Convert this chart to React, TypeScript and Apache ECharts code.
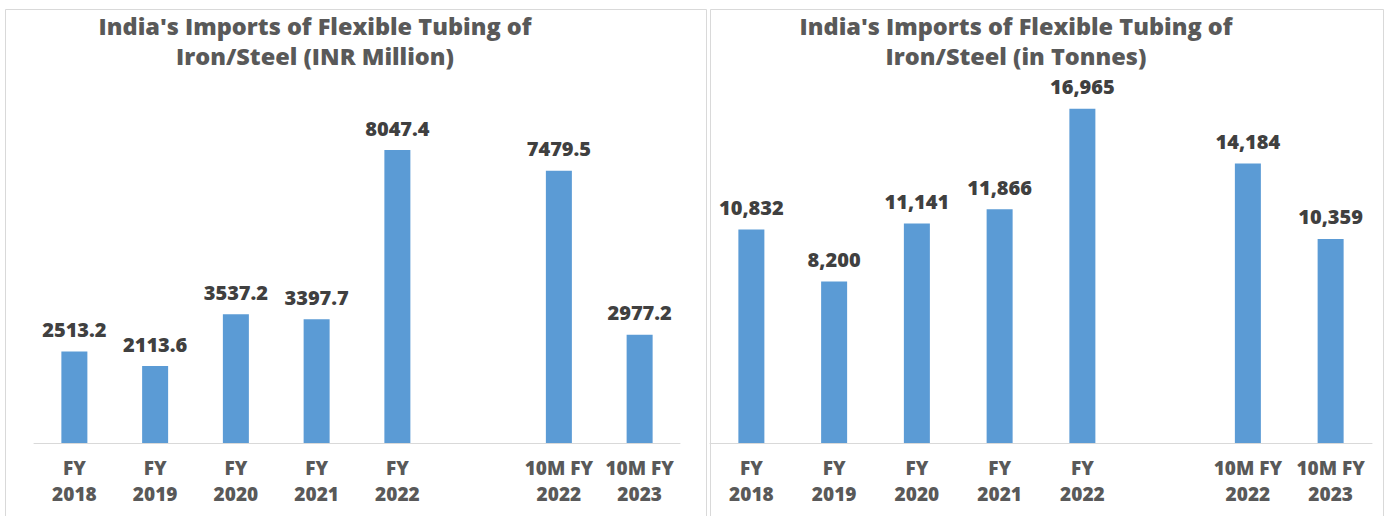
import React, { useEffect, useRef } from "react";
import * as echarts from "echarts";

const categories = ["FY\n2018", "FY\n2019", "FY\n2020", "FY\n2021", "FY\n2022", "", "10M FY\n2022", "10M FY\n2023"];
const valuesINR: (number | string)[] = [2513.2, 2113.6, 3537.2, 3397.7, 8047.4, "-", 7479.5, 2977.2];
const valuesTonnes: (number | string)[] = [10832, 8200, 11141, 11866, 16965, "-", 14184, 10359];
const titleLeft = "India's Imports of Flexible Tubing of\nIron/Steel (INR Million)";
const titleRight = "India's Imports of Flexible Tubing of\nIron/Steel (in Tonnes)";

const FONT = "'Open Sans', Lato, sans-serif";

export default function App() {
  const ref = useRef<HTMLDivElement>(null);
  useEffect(() => {
    document.body.style.margin = "0";
    const chart = echarts.init(ref.current!, null, { renderer: "svg" });
    const axisLabel = {
      interval: 0,
      color: "#595959",
      fontFamily: FONT,
      fontWeight: 800 as any,
      fontSize: 19,
      lineHeight: 26,
      margin: 12,
    };
    const xAxisBase = {
      type: "category" as const,
      data: categories,
      axisLine: { lineStyle: { color: "#d9d9d9", width: 1 } },
      axisTick: { show: false },
      axisLabel,
    };
    const yAxisBase = {
      type: "value" as const,
      min: 0,
      show: false,
      splitLine: { show: false },
    };
    const label = {
      show: true,
      position: "top" as const,
      distance: 12,
      color: "#404040",
      fontFamily: FONT,
      fontWeight: 800 as any,
      fontSize: 20,
    };
    chart.setOption({
      animation: false,
      graphic: [
        { type: "rect", shape: { x: 5.5, y: 9.5, width: 701, height: 520 }, style: { fill: "none", stroke: "#d9d9d9", lineWidth: 1 } },
        { type: "rect", shape: { x: 710.5, y: 9.5, width: 673, height: 520 }, style: { fill: "none", stroke: "#d9d9d9", lineWidth: 1 } },
        { type: "text", x: 315, y: 11, style: { text: titleLeft, textAlign: "center", fill: "#595959", font: `800 23.5px ${FONT}`, lineHeight: 30 } },
        { type: "text", x: 1016, y: 11, style: { text: titleRight, textAlign: "center", fill: "#595959", font: `800 23.5px ${FONT}`, lineHeight: 30 } },
      ],
      grid: [
        { left: 34, width: 646, top: 79, bottom: 516 - 443 },
        { left: 710, width: 662, top: 49, bottom: 516 - 443 },
      ],
      xAxis: [
        { ...xAxisBase, gridIndex: 0 },
        { ...xAxisBase, gridIndex: 1 },
      ],
      yAxis: [
        { ...yAxisBase, gridIndex: 0, max: 10000 },
        { ...yAxisBase, gridIndex: 1, max: 20000 },
      ],
      series: [
        {
          type: "bar",
          xAxisIndex: 0,
          yAxisIndex: 0,
          data: valuesINR,
          barWidth: 26,
          itemStyle: { color: "#5B9BD5" },
          label: { ...label, formatter: (p: any) => Number(p.value).toFixed(1) },
        },
        {
          type: "bar",
          xAxisIndex: 1,
          yAxisIndex: 1,
          data: valuesTonnes,
          barWidth: 26,
          itemStyle: { color: "#5B9BD5" },
          label: { ...label, formatter: (p: any) => Number(p.value).toLocaleString("en-US") },
        },
      ],
    });
    return () => chart.dispose();
  }, []);
  return <div ref={ref} style={{ width: 1388, height: 516 }} />;
}
